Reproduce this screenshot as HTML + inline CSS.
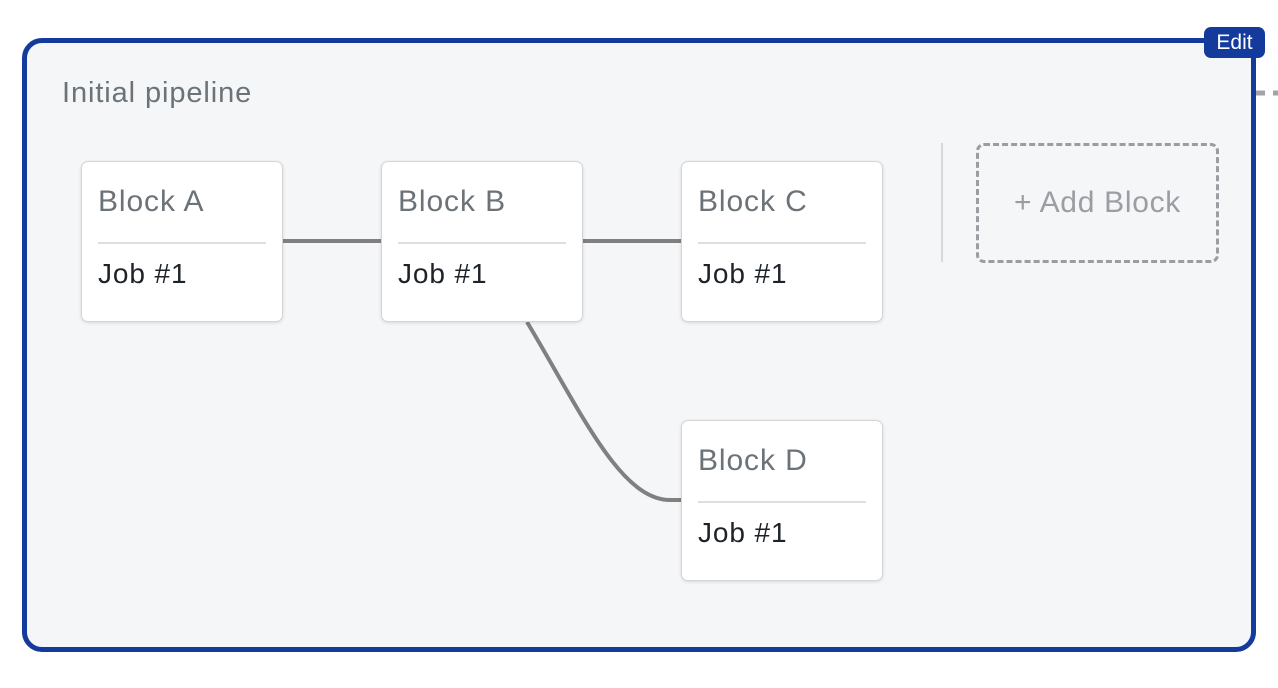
<!DOCTYPE html>
<html><head><style>
body{margin:0;width:1278px;height:688px;background:#fff;position:relative;overflow:hidden;font-family:"Liberation Sans",sans-serif}
.outer{position:absolute;left:22px;top:38px;width:1224px;height:604px;border:5px solid #143a9b;border-radius:20px;background:#f5f6f8}
.edit{position:absolute;left:1204px;top:27px;width:61px;height:31px;background:#143a9b;border-radius:7px;color:#fff;font-size:21px;line-height:31px;text-align:center}
.title{position:absolute;left:62px;top:77px;font-size:29px;letter-spacing:0.9px;color:#6b7378}
.card{position:absolute;width:200px;height:159px;background:#fff;border:1px solid #d3d5d7;border-radius:7px;box-shadow:0 1px 3px rgba(0,0,0,.12)}
.card .h{position:absolute;left:16px;top:23px;font-size:30px;letter-spacing:0.9px;color:#6b7378}
.card .d{position:absolute;left:16px;right:16px;top:80px;height:2px;background:#dcdedf}
.card .j{position:absolute;left:16px;top:96px;font-size:28px;letter-spacing:0.9px;color:#1d2328}
.add{position:absolute;left:976px;top:143px;width:237px;height:114px;border:3px dashed #9a9ea2;border-radius:8px;color:#9a9ea2;font-size:30px;letter-spacing:0.7px;line-height:114px;text-align:center}
</style></head><body>
<div class="outer"></div>
<svg style="position:absolute;left:0;top:0" width="1278" height="688">
<line x1="1256" y1="93" x2="1278" y2="93" stroke="#a0a4a8" stroke-width="5" stroke-dasharray="9,8"/>
<line x1="283" y1="241" x2="382" y2="241" stroke="#808080" stroke-width="4"/>
<line x1="582" y1="241" x2="682" y2="241" stroke="#808080" stroke-width="4"/>
<path d="M527 322 C580 410 620 500 670 500 L682 500" fill="none" stroke="#808080" stroke-width="4"/>
<line x1="942" y1="143" x2="942" y2="262" stroke="#d6d8da" stroke-width="2"/>
</svg>
<div class="edit">Edit</div>
<div class="title">Initial pipeline</div>
<div class="card" style="left:81px;top:161px"><div class="h">Block A</div><div class="d"></div><div class="j">Job #1</div></div>
<div class="card" style="left:381px;top:161px"><div class="h">Block B</div><div class="d"></div><div class="j">Job #1</div></div>
<div class="card" style="left:681px;top:161px"><div class="h">Block C</div><div class="d"></div><div class="j">Job #1</div></div>
<div class="card" style="left:681px;top:420px"><div class="h">Block D</div><div class="d"></div><div class="j">Job #1</div></div>
<div class="add">+ Add Block</div>
</body></html>
